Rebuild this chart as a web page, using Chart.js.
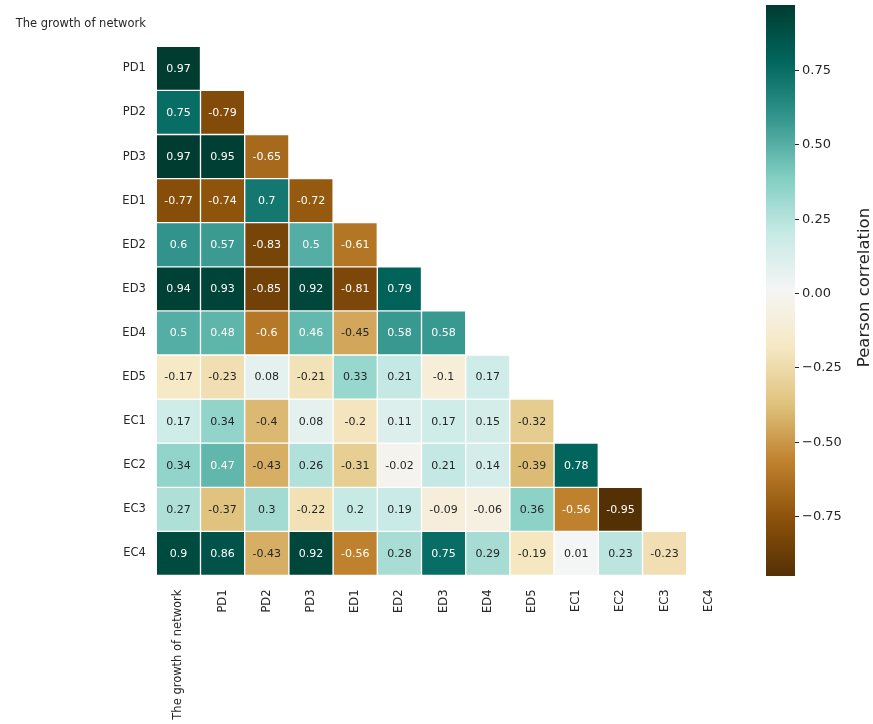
<!DOCTYPE html>
<html>
<head>
<meta charset="utf-8">
<script src="https://cdn.jsdelivr.net/npm/chart.js@4.4.0/dist/chart.umd.min.js"></script>
<style>
  html, body { margin: 0; padding: 0; background: #ffffff; }
  #wrap { position: relative; width: 873px; height: 724px; }
  #heat { position: absolute; left: 0; top: 0; }
  #cbar { position: absolute; left: 740px; top: 0; }
</style>
</head>
<body>
<div id="wrap">
  <canvas id="heat" width="873" height="724"></canvas>
  <canvas id="cbar" width="133" height="724"></canvas>
</div>
<script>
// Variables of the correlation matrix (row and column order)
const variables = ['The growth of network', 'PD1', 'PD2', 'PD3', 'ED1', 'ED2', 'ED3',
                   'ED4', 'ED5', 'EC1', 'EC2', 'EC3', 'EC4'];

// Lower-triangle Pearson coefficients, one list per row (columns from the left)
const rowGrowth = [];
const rowPD1 = [0.97];
const rowPD2 = [0.75, -0.79];
const rowPD3 = [0.97, 0.95, -0.65];
const rowED1 = [-0.77, -0.74, 0.7, -0.72];
const rowED2 = [0.6, 0.57, -0.83, 0.5, -0.61];
const rowED3 = [0.94, 0.93, -0.85, 0.92, -0.81, 0.79];
const rowED4 = [0.5, 0.48, -0.6, 0.46, -0.45, 0.58, 0.58];
const rowED5 = [-0.17, -0.23, 0.08, -0.21, 0.33, 0.21, -0.1, 0.17];
const rowEC1 = [0.17, 0.34, -0.4, 0.08, -0.2, 0.11, 0.17, 0.15, -0.32];
const rowEC2 = [0.34, 0.47, -0.43, 0.26, -0.31, -0.02, 0.21, 0.14, -0.39, 0.78];
const rowEC3 = [0.27, -0.37, 0.3, -0.22, 0.2, 0.19, -0.09, -0.06, 0.36, -0.56, -0.95];
const rowEC4 = [0.9, 0.86, -0.43, 0.92, -0.56, 0.28, 0.75, 0.29, -0.19, 0.01, 0.23, -0.23];

// Colour bar tick values
const colorbarTicks = [-0.75, -0.5, -0.25, 0, 0.25, 0.5, 0.75];
const colorbarTitle = 'Pearson correlation';

const rows = [rowGrowth, rowPD1, rowPD2, rowPD3, rowED1, rowED2, rowED3,
              rowED4, rowED5, rowEC1, rowEC2, rowEC3, rowEC4];

const allValues = rows.flat();
const vmin = Math.min(...allValues);
const vmax = Math.max(...allValues);

// BrBG diverging colormap anchors
const BRBG = [
  [84, 48, 5], [140, 81, 10], [191, 129, 45], [223, 194, 125], [246, 232, 195],
  [245, 245, 245], [199, 234, 229], [128, 205, 193], [53, 151, 143], [1, 102, 94], [0, 60, 48]
];

function brbgRgb(t) {
  t = Math.max(0, Math.min(1, t));
  const pos = t * (BRBG.length - 1);
  const i = Math.min(Math.floor(pos), BRBG.length - 2);
  const f = pos - i;
  return BRBG[i].map((c, k) => c + (BRBG[i + 1][k] - c) * f);
}
// 256-entry lookup, as a discretised colormap would use
const LUT_N = 256;
function lutRgb(t) {
  const idx = Math.min(LUT_N - 1, Math.max(0, Math.floor(t * LUT_N)));
  return brbgRgb(idx / (LUT_N - 1));
}
const norm = v => (v - vmin) / (vmax - vmin);
const rgbStr = c => `rgb(${Math.round(c[0])},${Math.round(c[1])},${Math.round(c[2])})`;
const cellColor = v => rgbStr(lutRgb(norm(v)));

function luminance(c) {
  const lin = c.map(x => {
    x /= 255;
    return x <= 0.03928 ? x / 12.92 : Math.pow((x + 0.055) / 1.055, 2.4);
  });
  return 0.2126 * lin[0] + 0.7152 * lin[1] + 0.0722 * lin[2];
}
const textColorFor = v => luminance(lutRgb(norm(v))) > 0.408 ? '#262626' : '#ffffff';

const FONT = '"DejaVu Sans", "Liberation Sans", sans-serif';
const INK = '#262626';

// One floating-bar dataset per matrix row; each cell spans [row - 0.5, row + 0.5]
const datasets = rows.map((vals, i) => ({
  label: variables[i],
  data: variables.map((_, j) => (j < vals.length ? [i - 0.5, i + 0.5] : null)),
  backgroundColor: ctx => (vals[ctx.dataIndex] === undefined ? 'rgba(0,0,0,0)' : cellColor(vals[ctx.dataIndex]))
}));

// Writes each coefficient in the middle of its cell
const cellLabels = {
  id: 'cellLabels',
  afterDatasetsDraw(chart) {
    const ctx = chart.ctx;
    ctx.save();
    ctx.font = `11px ${FONT}`;
    ctx.textAlign = 'center';
    ctx.textBaseline = 'middle';
    chart.data.datasets.forEach((ds, i) => {
      const meta = chart.getDatasetMeta(i);
      meta.data.forEach((el, j) => {
        const v = rows[i][j];
        if (v === undefined) return;
        const p = el.getCenterPoint();
        ctx.fillStyle = textColorFor(v);
        ctx.fillText(String(v), p.x, p.y + 0.5);
      });
    });
    ctx.restore();
  }
};

new Chart(document.getElementById('heat'), {
  type: 'bar',
  data: { labels: variables, datasets },
  options: {
    responsive: false,
    animation: false,
    events: [],
    layout: { padding: { top: 2.2, right: 142.1, left: 0, bottom: 0 } },
    plugins: { legend: { display: false }, tooltip: { enabled: false } },
    datasets: {
      bar: {
        grouped: false,
        barPercentage: 1,
        categoryPercentage: 1,
        borderWidth: 1,
        borderColor: '#ffffff',
        borderSkipped: false
      }
    },
    scales: {
      x: {
        type: 'category',
        offset: true,
        grid: { display: false, drawTicks: false },
        border: { display: false },
        ticks: {
          autoSkip: false,
          minRotation: 90,
          maxRotation: 90,
          padding: 14,
          color: INK,
          font: { family: FONT, size: 11.5 }
        },
        afterFit: s => { s.height = 148.5; s.paddingLeft = 0; s.paddingRight = 0; }
      },
      y: {
        type: 'linear',
        reverse: true,
        min: -0.5,
        max: variables.length - 0.5,
        afterBuildTicks: s => { s.ticks = variables.map((_, i) => ({ value: i })); },
        grid: { display: false, drawTicks: false },
        border: { display: false },
        ticks: {
          autoSkip: false,
          padding: 10.5,
          color: INK,
          font: { family: FONT, size: 11.5 },
          callback: v => variables[v]
        },
        afterFit: s => { s.width = 156.3; s.paddingTop = 0; s.paddingBottom = 0; }
      }
    }
  },
  plugins: [cellLabels]
});

// Colour bar: a single floating bar spanning the data range, filled with the colormap
const colorbarTitlePlugin = {
  id: 'colorbarTitle',
  afterDraw(chart) {
    const ctx = chart.ctx;
    const area = chart.chartArea;
    ctx.save();
    ctx.translate(125, (area.top + area.bottom) / 2 - 3);
    ctx.rotate(-Math.PI / 2);
    ctx.font = `16.5px ${FONT}`;
    ctx.fillStyle = INK;
    ctx.textAlign = 'center';
    ctx.textBaseline = 'middle';
    ctx.fillText(colorbarTitle, 0, 0);
    ctx.restore();
  }
};

const fmtTick = v => (v < 0 ? '\u2212' : '') + Math.abs(v).toFixed(2);

new Chart(document.getElementById('cbar'), {
  type: 'bar',
  data: {
    labels: [''],
    datasets: [{
      data: [[vmin, vmax]],
      borderWidth: 0,
      barPercentage: 1,
      categoryPercentage: 1,
      backgroundColor: ctx => {
        const chart = ctx.chart;
        const ys = chart.scales.y;
        if (!ys || !chart.chartArea) return '#f5f5f5';
        const g = chart.ctx.createLinearGradient(0, ys.getPixelForValue(vmin), 0, ys.getPixelForValue(vmax));
        BRBG.forEach((c, k) => g.addColorStop(k / (BRBG.length - 1), rgbStr(c)));
        return g;
      }
    }]
  },
  options: {
    responsive: false,
    animation: false,
    events: [],
    layout: { padding: { left: 26, top: 5, bottom: 148, right: 0 } },
    plugins: { legend: { display: false }, tooltip: { enabled: false } },
    scales: {
      x: { display: false },
      y: {
        position: 'right',
        min: vmin,
        max: vmax,
        afterBuildTicks: s => { s.ticks = colorbarTicks.map(v => ({ value: v })); },
        grid: { drawOnChartArea: false, drawTicks: true, tickLength: 4, tickColor: INK, tickWidth: 1 },
        border: { display: false },
        ticks: {
          padding: 3,
          color: INK,
          font: { family: FONT, size: 13 },
          callback: v => fmtTick(v)
        },
        afterFit: s => { s.width = 78; s.paddingTop = 0; s.paddingBottom = 0; }
      }
    }
  },
  plugins: [colorbarTitlePlugin]
});
</script>
</body>
</html>
